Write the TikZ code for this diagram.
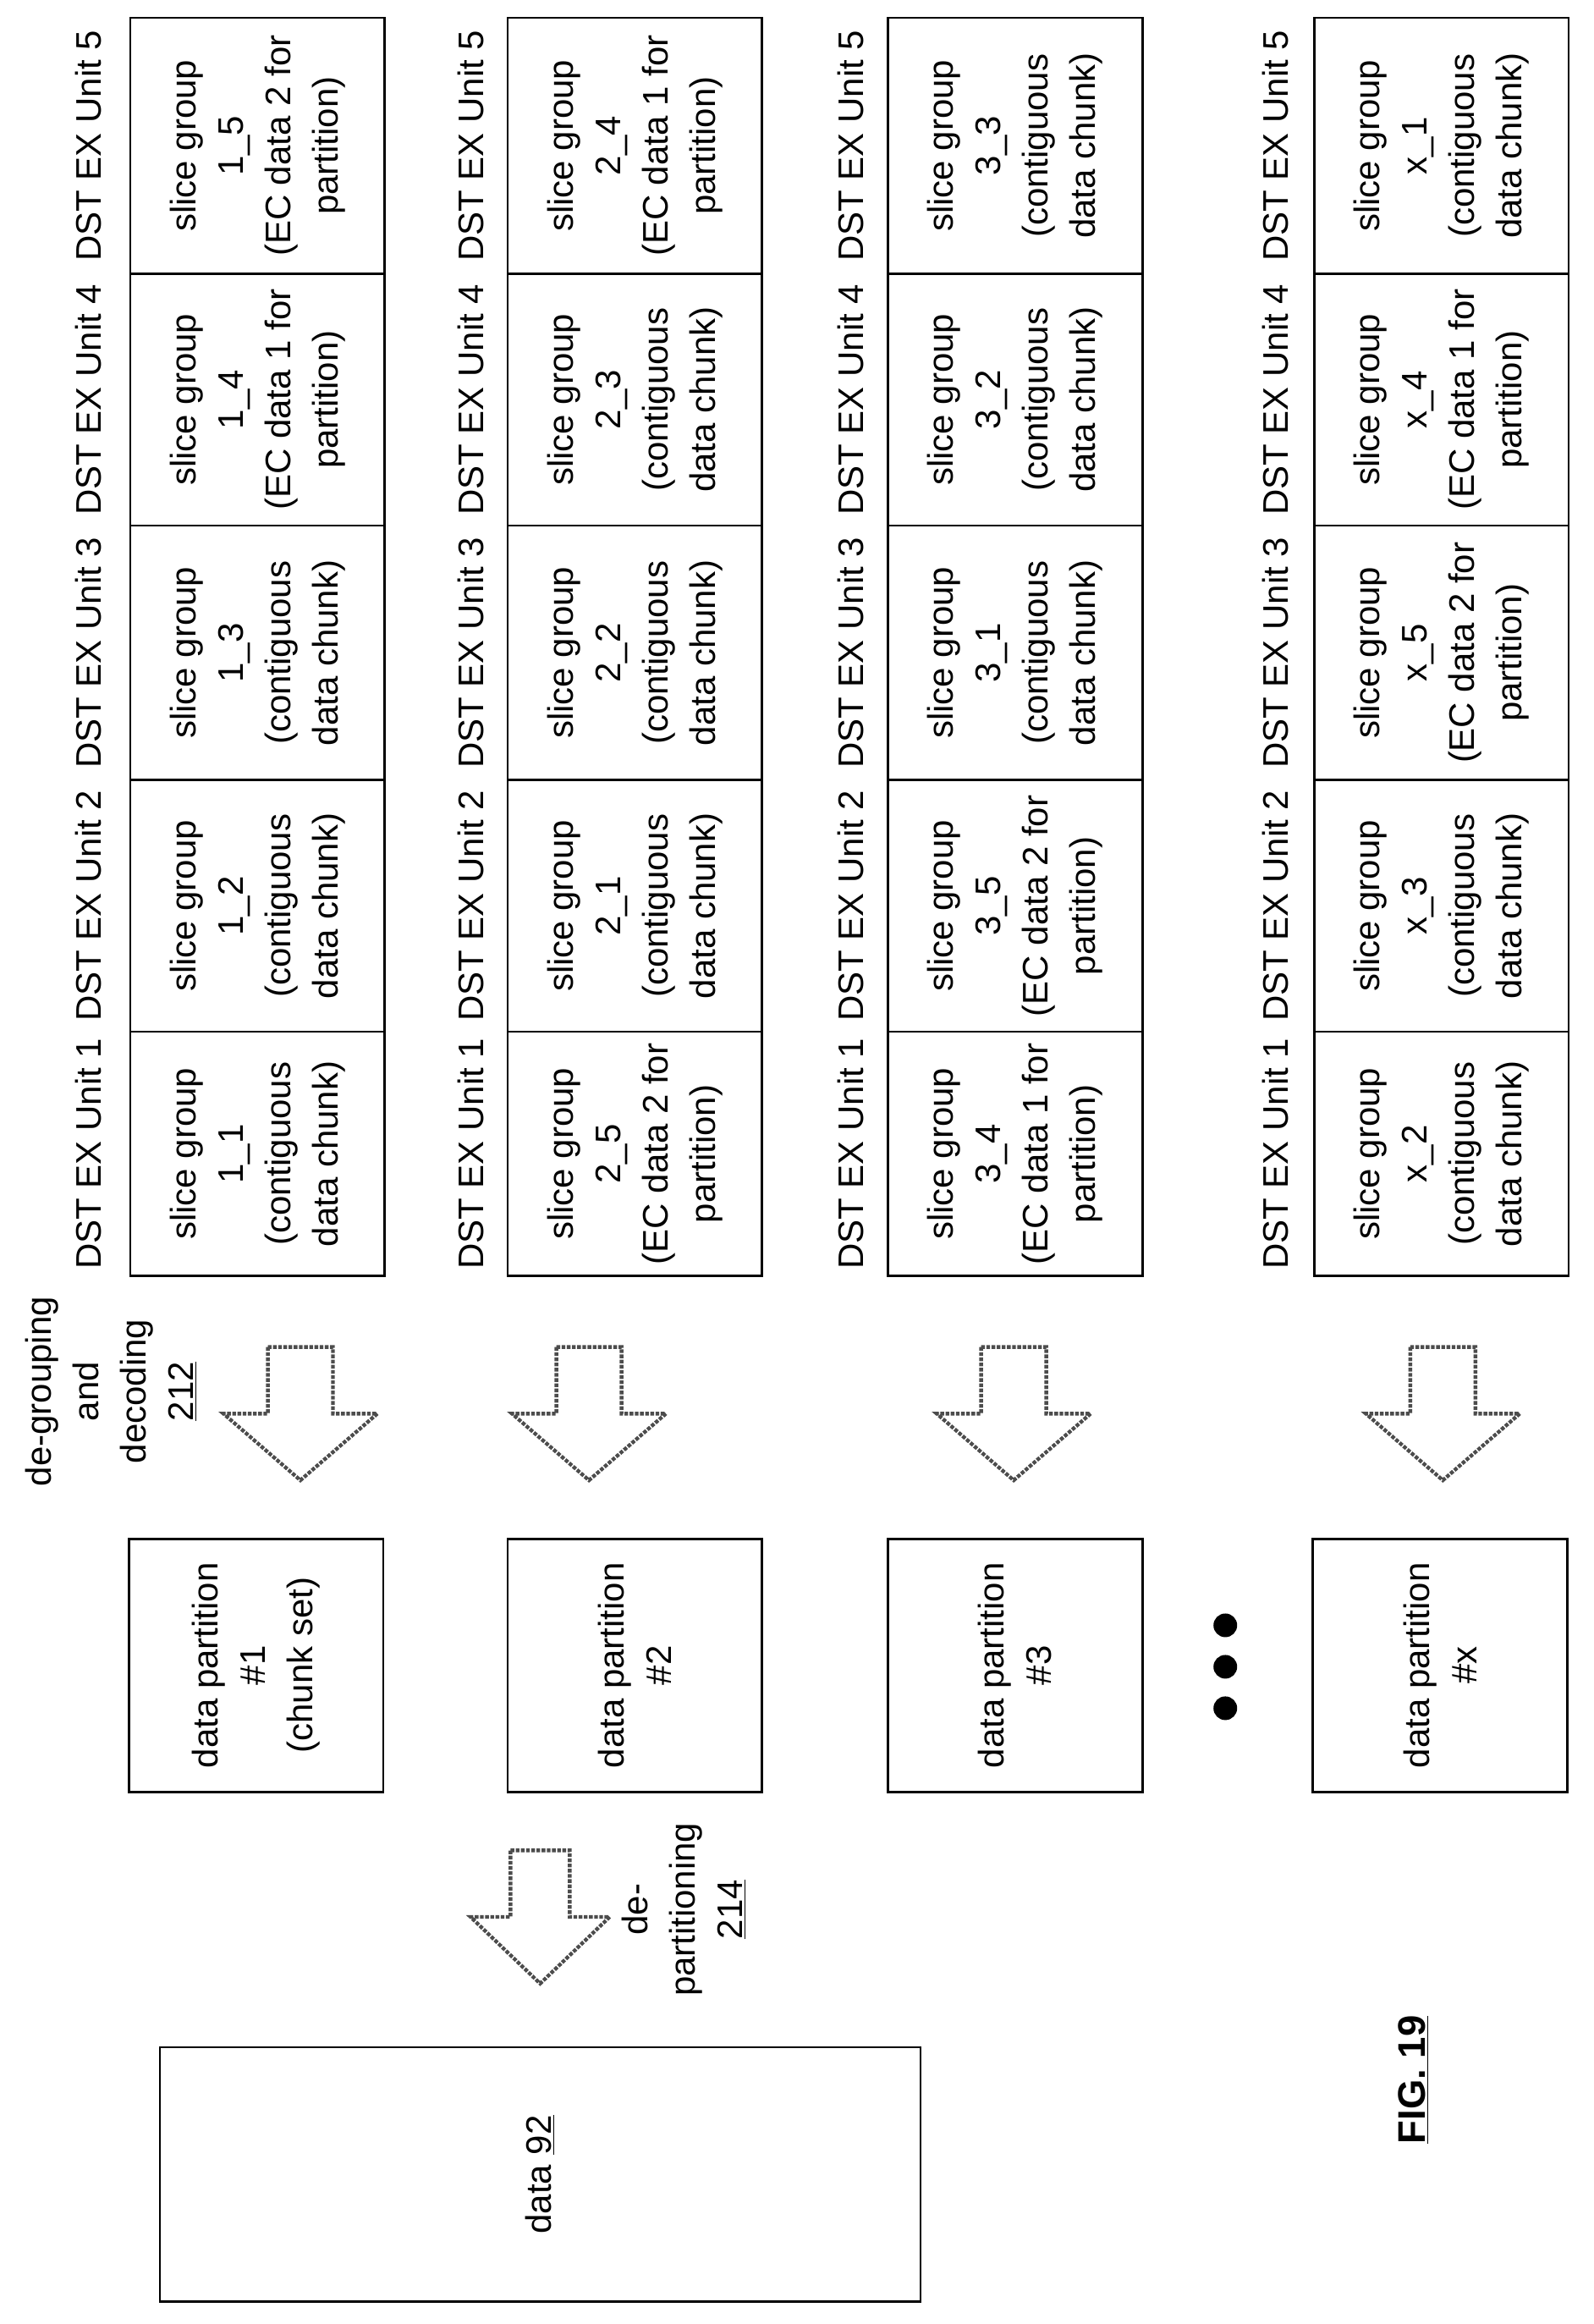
\documentclass[tikz,border=0pt]{standalone}
\usepackage{fontspec}
\setmainfont{Liberation Sans}
\begin{document}
\begin{tikzpicture}[x=1pt,y=-1pt,
 box/.style={draw,line width=1.6pt,minimum width=172pt,minimum height=171pt,inner sep=0},
 rt/.style={rotate=90,align=center,font=\fontsize{24}{32}\selectfont},
 arr/.style={draw=black!70,line width=2.5pt,densely dotted,fill=white}]
\useasboundingbox (0,0) rectangle (1077,1570);
\foreach \g/\gx/\lx/\t/\tb/\tc/\td/\te in {
 1/88/60/{slice group\\1\_1\\(contiguous\\data chunk)}/{slice group\\1\_2\\(contiguous\\data chunk)}/{slice group\\1\_3\\(contiguous\\data chunk)}/{slice group\\1\_4\\(EC data 1 for\\partition)}/{slice group\\1\_5\\(EC data 2 for\\partition)},
 2/343/318/{slice group\\2\_5\\(EC data 2 for\\partition)}/{slice group\\2\_1\\(contiguous\\data chunk)}/{slice group\\2\_2\\(contiguous\\data chunk)}/{slice group\\2\_3\\(contiguous\\data chunk)}/{slice group\\2\_4\\(EC data 1 for\\partition)},
 3/600/575/{slice group\\3\_4\\(EC data 1 for\\partition)}/{slice group\\3\_5\\(EC data 2 for\\partition)}/{slice group\\3\_1\\(contiguous\\data chunk)}/{slice group\\3\_2\\(contiguous\\data chunk)}/{slice group\\3\_3\\(contiguous\\data chunk)},
 4/888/862/{slice group\\x\_2\\(contiguous\\data chunk)}/{slice group\\x\_3\\(contiguous\\data chunk)}/{slice group\\x\_5\\(EC data 2 for\\partition)}/{slice group\\x\_4\\(EC data 1 for\\partition)}/{slice group\\x\_1\\(contiguous\\data chunk)}}{
  \node[box,minimum height=165pt] (b\g1) at (\gx+86,779.5) {}; \node[rt] at (b\g1) {\t};
  \node[box,minimum height=170pt] (b\g2) at (\gx+86,612) {}; \node[rt] at (b\g2) {\tb};
  \node[box,minimum height=172pt] (b\g3) at (\gx+86,441) {}; \node[rt] at (b\g3) {\tc};
  \node[box,minimum height=170pt] (b\g4) at (\gx+86,270) {}; \node[rt] at (b\g4) {\td};
  \node[box,minimum height=173pt] (b\g5) at (\gx+86,98.5) {}; \node[rt] at (b\g5) {\te};
  \foreach \u/\uy in {1/779.5,2/612,3/441,4/270,5/98.5}
    \node[rt] (l\g\u) at (\lx,\uy) {DST EX Unit \u};
}
\foreach \g/\cx in {1/203,2/398,3/685,4/975}{
  \draw[arr] (\cx-22,910) -- (\cx+22,910) -- (\cx+22,955) -- (\cx+52,955) -- (\cx,1000) -- (\cx-52,955) -- (\cx-22,955) -- cycle;
}
\node[rt] (dg) at (75,940) {de-grouping\\and\\decoding\\\underline{212}};
\node[box] (p1) at (173,1125) {}; \node[rt] at (p1) {data partition\\\#1\\(chunk set)};
\node[box] (p2) at (429,1125) {}; \node[rt] at (p2) {data partition\\\#2};
\node[box] (p3) at (686,1125) {}; \node[rt] at (p3) {data partition\\\#3};
\node[box] (p4) at (973,1125) {}; \node[rt] at (p4) {data partition\\\#x};
\foreach \yy in {1098,1126,1154} \fill (828,\yy) circle (8);
\draw[arr] (345,1250) -- (385,1250) -- (385,1295) -- (412,1295) -- (365,1340) -- (318,1295) -- (345,1295) -- cycle;
\node[rt] (dp) at (462,1290) {de-\\partitioning\\\underline{214}};
\node[draw,line width=1.6pt,minimum width=514pt,minimum height=172pt] (d) at (365,1469) {};
\node[rt] at (d) {data \underline{92}};
\node[rotate=90,font=\bfseries\fontsize{26}{30}\selectfont] (fig) at (955,1405) {\underline{FIG. 19}};
\end{tikzpicture}
\end{document}
